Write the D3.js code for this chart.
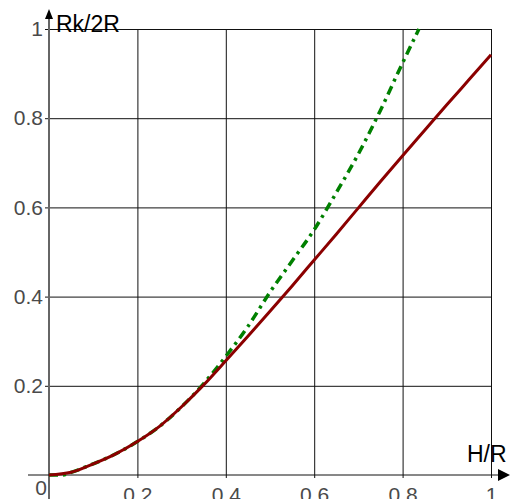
<!DOCTYPE html>
<html>

<head>
    <meta charset="utf-8">
    <script src="https://d3js.org/d3.v7.min.js"></script>
    <style>
        body { margin: 0; background: #fff; }
        text { font-family: "Liberation Sans", Arial, sans-serif; }
    </style>
</head>

<body>
    <div id="viz"></div>

    <script>

        // values (H/R on x, Rk/2R on y)
        var redX = [0, 0.05, 0.1, 0.15, 0.2, 0.25, 0.3, 0.35, 0.4, 0.45, 0.5, 0.55, 0.6, 0.65, 0.7, 0.75, 0.8, 0.85, 0.9, 0.95, 1.0]
        var redY = [0, 0.006, 0.025, 0.047, 0.075, 0.109, 0.153, 0.202, 0.256, 0.311, 0.367, 0.424, 0.482, 0.54, 0.599, 0.658, 0.716, 0.773, 0.83, 0.886, 0.942]

        var greenX = [0, 0.03, 0.05, 0.1, 0.15, 0.2, 0.25, 0.3, 0.35, 0.4, 0.45, 0.5, 0.55, 0.6, 0.65, 0.7, 0.75, 0.8, 0.837]
        var greenY = [0, 0, 0.006, 0.025, 0.047, 0.075, 0.109, 0.153, 0.205, 0.266, 0.333, 0.41, 0.48, 0.55, 0.633, 0.72, 0.818, 0.924, 1.0]

        var xTicks = [0.2, 0.4, 0.6, 0.8, 1]
        var yTicks = [0.2, 0.4, 0.6, 0.8, 1]

        var W = 510, H = 499

        var svg = d3.select("#viz")
            .append("svg")
            .attr("width", W)
            .attr("height", H)

        var x = d3.scaleLinear().domain([0, 1]).range([49, 491])
        var y = d3.scaleLinear().domain([0, 1]).range([475, 29])

        // vertical grid lines (run a little below the x axis)
        svg.append("g")
            .attr("transform", "translate(0," + (y(0) + 3) + ")")
            .call(d3.axisBottom(x).tickValues(xTicks).tickSizeInner(-(y(0) + 3 - y(1))).tickSizeOuter(0).tickFormat(""))
            .call(g => g.select(".domain").remove())
            .call(g => g.selectAll("line").attr("stroke", "#111"))

        // horizontal grid lines (start a little left of the y axis)
        svg.append("g")
            .attr("transform", "translate(" + (x(0) - 4) + ",0)")
            .call(d3.axisLeft(y).tickValues(yTicks).tickSizeInner(-(x(1) - x(0) + 4)).tickSizeOuter(0).tickFormat(""))
            .call(g => g.select(".domain").remove())
            .call(g => g.selectAll("line").attr("stroke", "#111"))

        // y tick labels
        svg.append("g")
            .attr("transform", "translate(" + (x(0) - 6) + ",0)")
            .call(d3.axisLeft(y).tickValues(yTicks).tickSize(0).tickPadding(0).tickFormat(d3.format("")))
            .call(g => g.select(".domain").remove())
            .call(g => g.selectAll("text").attr("font-size", 21).attr("fill", "#4a4a4a").attr("font-family", "Liberation Sans, Arial, sans-serif"))

        // x tick labels (cut by the lower edge, as in the original)
        svg.append("g")
            .attr("transform", "translate(0," + (y(0) + 12) + ")")
            .call(d3.axisBottom(x).tickValues(xTicks).tickSize(0).tickPadding(0).tickFormat(d3.format("")))
            .call(g => g.select(".domain").remove())
            .call(g => g.selectAll("text").attr("font-size", 21).attr("fill", "#4a4a4a").attr("font-family", "Liberation Sans, Arial, sans-serif"))

        svg.append("text")
            .attr("x", x(0) - 8)
            .attr("y", y(0) + 20)
            .attr("text-anchor", "middle")
            .attr("font-size", 21)
            .attr("fill", "#4a4a4a")
            .text("0")

        // axis lines with arrows
        svg.append("line")
            .attr("x1", x(0)).attr("x2", x(0))
            .attr("y1", H).attr("y2", 16)
            .attr("stroke", "#666").attr("stroke-width", 2)
        svg.append("path")
            .attr("d", "M" + x(0) + ",9 L" + (x(0) - 4) + ",19 L" + (x(0) + 4) + ",19 Z")
            .attr("fill", "#000")

        svg.append("line")
            .attr("x1", 28).attr("x2", 500)
            .attr("y1", y(0)).attr("y2", y(0))
            .attr("stroke", "#111").attr("stroke-width", 1)
        svg.append("path")
            .attr("d", "M510," + y(0) + " L498," + (y(0) - 6) + " L498," + (y(0) + 6) + " Z")
            .attr("fill", "#000")

        // axis titles
        svg.append("text")
            .attr("x", 56).attr("y", 32)
            .attr("font-size", 23)
            .attr("fill", "#000")
            .text("Rk/2R")
        svg.append("text")
            .attr("x", 467).attr("y", 462)
            .attr("font-size", 23)
            .attr("fill", "#000")
            .text("H/R")

        var line = d3.line()
            .x(d => x(d[0]))
            .y(d => y(d[1]))
            .curve(d3.curveMonotoneX)

        var green = greenX.map((v, i) => [v, greenY[i]])
        var red = redX.map((v, i) => [v, redY[i]])

        svg.append("path")
            .datum(green)
            .attr("d", line)
            .attr("fill", "none")
            .attr("stroke", "#008000")
            .attr("stroke-width", 3.5)
            .attr("stroke-dasharray", "9,5,3,5")

        svg.append("path")
            .datum(red)
            .attr("d", line)
            .attr("fill", "none")
            .attr("stroke", "#8b0000")
            .attr("stroke-width", 3)

    </script>
</body>

</html>
